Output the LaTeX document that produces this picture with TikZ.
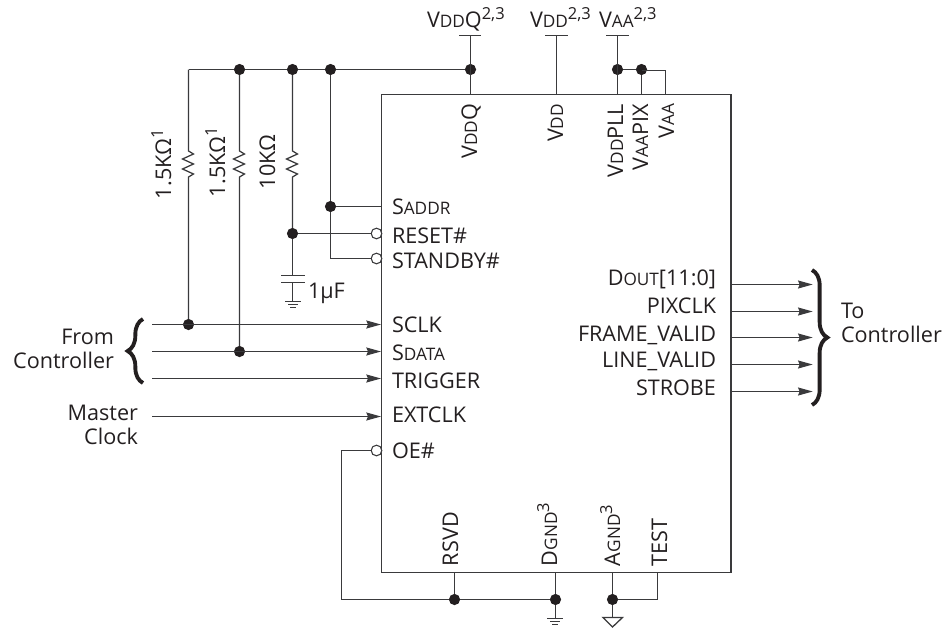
\documentclass[tikz,border=0pt]{standalone}
\usepackage{fontspec}
\setmainfont{Open Sans}
\usetikzlibrary{arrows.meta, decorations.pathreplacing}
\definecolor{wire}{HTML}{3A3A3C}
\definecolor{ink}{HTML}{231F20}
\newcommand{\sm}[1]{{\fontsize{12.9}{14}\selectfont #1}}
\newcommand{\supr}[1]{\raisebox{6pt}{\fontsize{12.4}{14}\selectfont #1}}
\tikzset{
every node/.style={text=ink, font=\fontsize{16.2}{18}\selectfont, inner sep=0pt, outer sep=0pt},
dot/.style={circle, fill=ink, minimum size=8.4pt},
bubble/.style={circle, draw=wire, fill=white, line width=0.8pt, minimum size=8pt},
pinl/.style={anchor=base west},
pinr/.style={anchor=base east},
pintop/.style={rotate=90, anchor=base east},
pinbot/.style={rotate=90, anchor=base west},
wires/.style={draw=wire, line width=0.95pt},
sig/.style={wires, -{Stealth[length=11pt,width=6pt,inset=1.2pt]}},
tbar/.style={wires, line width=0.9pt},
zig/.style={to path={-- ++(0,1) -- ++(5,3) -- ++(-11,5) -- ++(11,5) -- ++(-11,5) -- ++(11,5) -- ++(-5,3) -- (\tikztotarget)}},
brace/.style={draw=ink, line width=2.9pt, decorate, decoration={brace, amplitude=11.5pt}},
}
\begin{document}
\begin{tikzpicture}[x=0.75pt, y=-0.75pt]
    \useasboundingbox (0,0) rectangle (949,629);

    % chip
    \node[draw=wire, line width=0.95pt, anchor=north west, minimum width=262.1pt, minimum height=358.5pt] (chip) at (381.5,94.5) { };

    %pins on the left side
    \node[pinl] (saddr)   at (392,214) {S\sm{ADDR}};
    \node[pinl] (reset)   at (392,243) {RESET\#};
    \node[pinl] (standby) at (392,268) {STANDBY\#};
    \node[pinl] (sclk)    at (392,332) {SCLK};
    \node[pinl] (sdata)   at (392,360) {S\sm{DATA}};
    \node[pinl] (trigger) at (392,388) {TRIGGER};
    \node[pinl] (extclk)  at (392,422) {EXTCLK};
    \node[pinl] (oe)      at (392,458) {OE\#};

    %pins on the right side
    \node[pinr] (dout)   at (716,285) {D\sm{OUT}[11:0]};
    \node[pinr] (pixclk) at (716,313) {PIXCLK};
    \node[pinr] (frame)  at (716,341) {FRAME\_VALID};
    \node[pinr] (line)   at (716,367) {LINE\_VALID};
    \node[pinr] (strobe) at (716,395) {STROBE};

    %pins on top
    \node[pintop] (vddqpin)   at (477,104) {V\sm{DD}Q};
    \node[pintop] (vddpin)    at (563,104) {V\sm{DD}};
    \node[pintop] (vddpllpin) at (623,104) {V\sm{DD}PLL};
    \node[pintop] (vaapixpin) at (648,104) {V\sm{AA}PIX};
    \node[pintop] (vaapin)    at (674,104) {V\sm{AA}};

    %pins on the bottom
    \node[pinbot] (rsvd)    at (458,566) {RSVD};
    \node[pinbot] (dgndpin) at (557,566) {D\sm{GND}\supr{3}};
    \node[pinbot] (agndpin) at (620,566) {A\sm{GND}\supr{3}};
    \node[pinbot] (test)    at (667,566) {TEST};

    %supply labels
    \node[pinl] (vddqlab) at (427,27) {V\sm{DD}Q\supr{2,3}};
    \node[pinl] (vddlab)  at (530,27) {V\sm{DD}\supr{2,3}};
    \node[pinl] (vaalab)  at (599,27) {V\sm{AA}\supr{2,3}};

    %outside labels
    \node[pinr] (from)    at (114,344) {From};
    \node[pinr] (fromc)   at (114,368) {Controller};
    \node[pinr] (master)  at (138,420) {Master};
    \node[pinr] (clock)   at (138,444) {Clock};
    \node[pinl] (to)      at (841,318) {To};
    \node[pinl] (toc)     at (841,342) {Controller};
    \node[pinl] (cval)    at (308,298) {1µF};
    \node[rotate=90, anchor=base west] (r1lab) at (171,199) {1.5KΩ\supr{1}};
    \node[rotate=90, anchor=base west] (r2lab) at (225,197) {1.5KΩ\supr{1}};
    \node[rotate=90, anchor=base west] (r3lab) at (275,189) {10KΩ};

    %dots
    \node[dot] (d1)  at (239.5,69.5) { };
    \node[dot] (d2)  at (292.5,69.5) { };
    \node[dot] (d3)  at (330.5,69.5) { };
    \node[dot] (d4)  at (470.5,69.5) { };
    \node[dot] (d5)  at (617.5,69.5) { };
    \node[dot] (d6)  at (641.5,69.5) { };
    \node[dot] (d7)  at (330.5,206.5) { };
    \node[dot] (d8)  at (292.5,233.5) { };
    \node[dot] (d9)  at (188.5,324.5) { };
    \node[dot] (d10) at (239.5,351.5) { };
    \node[dot] (d11) at (454.5,599.5) { };
    \node[dot] (d12) at (555.5,599.5) { };
    \node[dot] (d13) at (612.5,599.5) { };

    %bubbles
    \node[bubble] (b1) at (376.5,233.5) { };
    \node[bubble] (b2) at (376.5,258.5) { };
    \node[bubble] (b3) at (376.5,450.5) { };

    %free ends
    \coordinate (railend) at (188.5,69.5);
    \coordinate (r1top) at (188.5,150);  \coordinate (r1bot) at (188.5,179);
    \coordinate (r2top) at (239.5,150);  \coordinate (r2bot) at (239.5,179);
    \coordinate (r3top) at (292.5,150);  \coordinate (r3bot) at (292.5,179);
    \coordinate (c1l) at (281,275.5);    \coordinate (c1r) at (305,275.5);
    \coordinate (c2l) at (281,282.5);    \coordinate (c2r) at (305,282.5);
    \coordinate (c2m) at (292.5,282.5);  \coordinate (c1m) at (292.5,275.5);
    \coordinate (g1m) at (292.5,301.5);
    \coordinate (g2m) at (555.5,618.5);
    \coordinate (tritop) at (612.5,617.5);
    \coordinate (sclkin) at (152,324.5);   \coordinate (sclkout) at (381,324.5);
    \coordinate (sdatain) at (152,351.5);  \coordinate (sdataout) at (381,351.5);
    \coordinate (trigin) at (152,378.5);   \coordinate (trigout) at (381,378.5);
    \coordinate (extin) at (152,416.5);    \coordinate (extout) at (381,416.5);
    \coordinate (saddrend) at (381.5,206.5);
    \coordinate (oecorner) at (341.5,450.5);
    \coordinate (oelow) at (341.5,599.5);
    \coordinate (vddqt) at (470.5,35.5);    \coordinate (vddqb) at (470.5,94.5);
    \coordinate (vddt) at (556.5,35.5);   \coordinate (vddb) at (556.5,94.5);
    \coordinate (vaat) at (617.5,35.5);   \coordinate (vaab) at (617.5,94.5);
    \coordinate (vaapixb) at (641.5,94.5);
    \coordinate (vaaup) at (665.5,70.5);  \coordinate (vaab2) at (665.5,94.5);
    \coordinate (vaaleft) at (641.5,70.5);
    \coordinate (rsvdb) at (454.5,572.5);
    \coordinate (dgndb) at (555.5,572.5);
    \coordinate (agndb) at (612.5,572.5);
    \coordinate (testb) at (657.5,572.5);
    \coordinate (testlow) at (657.5,599.5);
    \coordinate (lbt) at (143,319);  \coordinate (lbb) at (143,383);
    \coordinate (rbt) at (812,270);  \coordinate (rbb) at (812,405);

    %supply rails
    \draw[wires] (railend)--(d1);
    \draw[wires] (d1)--(d2);
    \draw[wires] (d2)--(d3);
    \draw[wires] (d3)--(d4);
    \draw[wires] (vddqt)--(vddqb);
    \draw[wires] (vddt)--(vddb);
    \draw[wires] (vaat)--(vaab);
    \draw[wires] (d5)--(d6);
    \draw[wires] (vaaleft)--(vaaup)--(vaab2);
    \draw[wires] (d6)--(vaapixb);
    \draw[tbar] (459,35.5)--(481,35.5);
    \draw[tbar] (545,35.5)--(568,35.5);
    \draw[tbar] (606,35.5)--(629,35.5);

    %resistors
    \draw[wires] (railend)--(r1top) to[zig] (r1bot)--(d9);
    \draw[wires] (d1)--(r2top) to[zig] (r2bot)--(d10);
    \draw[wires] (d2)--(r3top) to[zig] (r3bot)--(d8);

    %capacitor and its ground
    \draw[wires] (d8)--(c1m);
    \draw[wires] (c1l)--(c1r);
    \draw[wires] (c2l)--(c2r);
    \draw[wires] (c2m)--(g1m);
    \draw[wires] (285,301.5)--(301,301.5);
    \draw[wires] (288,304.5)--(298,304.5);
    \draw[wires] (290,307.5)--(296,307.5);

    %reset and standby
    \draw[wires] (d3)--(d7);
    \draw[wires] (d7)--(saddrend);
    \draw[wires] (d8)--(b1);
    \draw[wires] (d7) |- (b2);

    %inputs
    \draw[sig] (sclkin)--(sclkout);
    \draw[sig] (sdatain)--(sdataout);
    \draw[sig] (trigin)--(trigout);
    \draw[sig] (extin)--(extout);

    %outputs
    \draw[sig] (731.7,284.5)--(812.7,284.5);
    \draw[sig] (731.7,311.5)--(812.7,311.5);
    \draw[sig] (731.7,337.5)--(812.7,337.5);
    \draw[sig] (731.7,364.5)--(812.7,364.5);
    \draw[sig] (731.7,391.5)--(812.7,391.5);

    %braces
    \draw[brace] (lbb)--(lbt);
    \draw[brace] (rbt)--(rbb);

    %bottom
    \draw[wires] (b3)--(oecorner)--(oelow)--(d11);
    \draw[wires] (d11)--(d12);
    \draw[wires] (rsvdb)--(d11);
    \draw[wires] (dgndb)--(d12);
    \draw[wires] (d12)--(g2m);
    \draw[wires] (547,618.5)--(563,618.5);
    \draw[wires] (550,621.5)--(560,621.5);
    \draw[wires] (552,624.5)--(558,624.5);
    \draw[wires] (agndb)--(d13);
    \draw[wires] (d13)--(tritop);
    \draw[wires] (d13)--(testlow)--(testb);
    \draw[wires] (603,617.5)--(622.5,617.5)--(612.5,627)--cycle;
\end{tikzpicture}
\end{document}
